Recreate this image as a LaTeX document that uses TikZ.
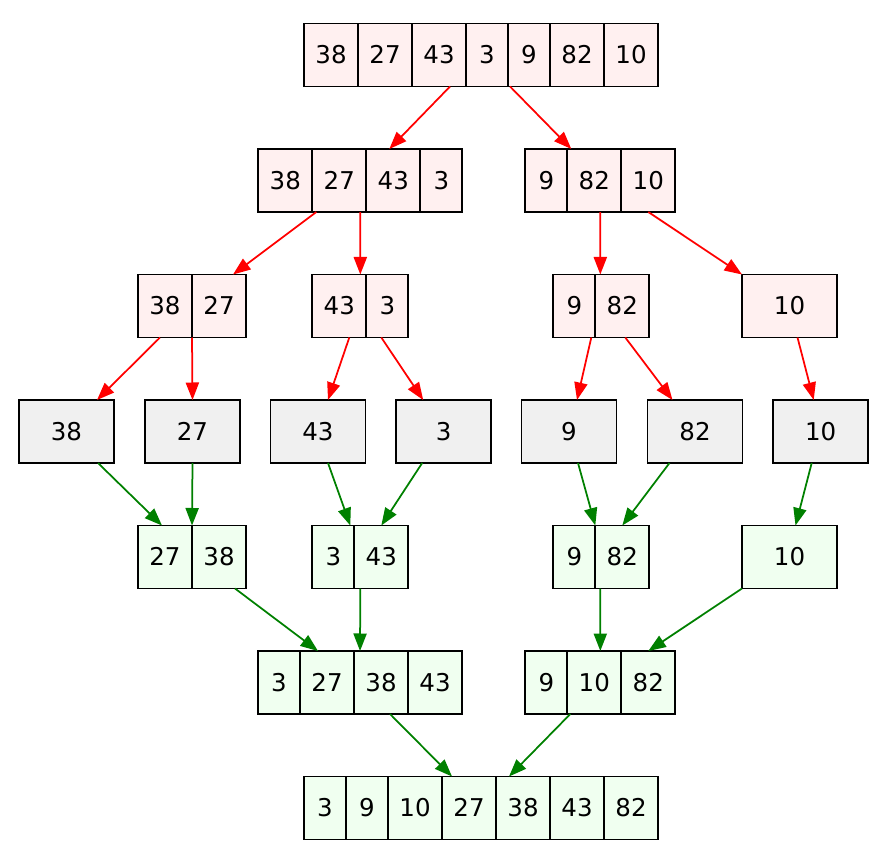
\documentclass[tikz,border=0pt]{standalone}
\usepackage{fontspec}
\setmainfont{DejaVu Sans}
\usetikzlibrary{positioning, calc, arrows.meta}
\definecolor{splitfill}{HTML}{FFF0F0}
\definecolor{leaffill}{HTML}{F0F0F0}
\definecolor{mergefill}{HTML}{F0FFF0}
\definecolor{mergeline}{HTML}{008000}
\tikzstyle{cell} = [rectangle, draw=black, line width=1pt, outer sep=0pt, inner sep=0pt, minimum width=24pt, minimum height=36pt, text height=10.2pt, text depth=0pt, text centered, font=\fontsize{14}{17}\selectfont]
\tikzstyle{cellW} = [cell, minimum width=30.86pt]
\tikzstyle{leaf} = [cell, minimum width=54.29pt]
\tikzstyle{part} = [cell, fill=splitfill]
\tikzstyle{partW} = [cellW, fill=splitfill]
\tikzstyle{single} = [leaf, fill=leaffill]
\tikzstyle{sorted} = [cell, fill=mergefill]
\tikzstyle{sortedW} = [cellW, fill=mergefill]
\tikzstyle{split} = [red, line width=1pt, -{Triangle[length=10pt,width=7.5pt]}]
\tikzstyle{merge} = [split, mergeline]

\begin{document}
\begin{tikzpicture}[x=0.5714pt, y=-0.5714pt]
\useasboundingbox (0,0) rectangle (890,850);
% split
\node (top1) [partW] at (331,55) {38};
\node (top2) [partW, right=0pt of top1] {27};
\node (top3) [partW, right=0pt of top2] {43};
\node (top4) [part, right=0pt of top3] {3};
\node (top5) [part, right=0pt of top4] {9};
\node (top6) [partW, right=0pt of top5] {82};
\node (top7) [partW, right=0pt of top6] {10};

\node (L1) [partW] at (285.3,180.5) {38};
\node (L2) [partW, right=0pt of L1] {27};
\node (L3) [partW, right=0pt of L2] {43};
\node (L4) [part, right=0pt of L3] {3};
\node (R1) [part] at (546.3,180.5) {9};
\node (R2) [partW, right=0pt of R1] {82};
\node (R3) [partW, right=0pt of R2] {10};

\node (LL1) [partW] at (165,306) {38};
\node (LL2) [partW, right=0pt of LL1] {27};
\node (LR1) [partW] at (339.3,306) {43};
\node (LR2) [part, right=0pt of LR1] {3};
\node (RL1) [part] at (574.3,306) {9};
\node (RL2) [partW, right=0pt of RL1] {82};
\node (RR) [leaf, fill=splitfill] at (789.5,306) {10};

% single values
\node (l38) [single] at (66.5,431.5) {38};
\node (l27) [single] at (192.5,431.5) {27};
\node (l43) [single] at (318,431.5) {43};
\node (l3) [single] at (443.7,431.5) {3};
\node (l9) [single] at (569,431.5) {9};
\node (l82) [single] at (695,431.5) {82};
\node (l10) [single] at (820.7,431.5) {10};

% merge
\node (mLL1) [sortedW] at (165,557) {27};
\node (mLL2) [sortedW, right=0pt of mLL1] {38};
\node (mLR1) [sorted] at (333.3,557) {3};
\node (mLR2) [sortedW, right=0pt of mLR1] {43};
\node (mRL1) [sorted] at (574.3,557) {9};
\node (mRL2) [sortedW, right=0pt of mRL1] {82};
\node (mRR) [leaf, fill=mergefill] at (789.5,557) {10};

\node (M1) [sorted] at (279,682.5) {3};
\node (M2) [sortedW, right=0pt of M1] {27};
\node (M3) [sortedW, right=0pt of M2] {38};
\node (M4) [sortedW, right=0pt of M3] {43};
\node (N1) [sorted] at (546.3,682.5) {9};
\node (N2) [sortedW, right=0pt of N1] {10};
\node (N3) [sortedW, right=0pt of N2] {82};

\node (F1) [sorted] at (325,808) {3};
\node (F2) [sorted, right=0pt of F1] {9};
\node (F3) [sortedW, right=0pt of F2] {10};
\node (F4) [sortedW, right=0pt of F3] {27};
\node (F5) [sortedW, right=0pt of F4] {38};
\node (F6) [sortedW, right=0pt of F5] {43};
\node (F7) [sortedW, right=0pt of F6] {82};

\draw [split] ($(top3.south)+(11,0)$) -- ($(L3.north)+(-4,0)$);
\draw [split] ($(top5.south west)+(2,0)$) -- ($(R2.north west)+(4,0)$);
\draw [split] ($(L2.south west)+(4,0)$) -- ($(LL2.north)+(14,0)$);
\draw [split] ($(L2.south east)+(-6,0)$) -- ($(LR1.north east)+(-6,0)$);
\draw [split] ($(R2.south)+(6,0)$) -- ($(RL2.north west)+(5,0)$);
\draw [split] (R3.south) -- (RR.north west);
\draw [split] ($(LL1.south)+(-5,0)$) -- ($(l38.north east)+(-17,0)$);
\draw [split] (LL1.south east) -- (l27.north);
\draw [split] ($(LR1.south)+(10,0)$) -- ($(l43.north)+(10,0)$);
\draw [split] ($(LR2.south)+(-6,0)$) -- ($(l3.north west)+(27,0)$);
\draw [split] ($(RL1.south east)+(-4,0)$) -- ($(l9.north)+(8,0)$);
\draw [split] ($(RL2.south)+(3,0)$) -- ($(l82.north west)+(25,0)$);
\draw [split] ($(RR.south)+(8,0)$) -- ($(l10.north)+(-7,0)$);

\draw [merge] ($(l38.south east)+(-16,0)$) -- ($(mLL1.north)+(-3,0)$);
\draw [merge] (l27.south) -- (mLL1.north east);
\draw [merge] ($(l43.south)+(10,0)$) -- ($(mLR1.north east)+(-4,0)$);
\draw [merge] ($(l3.south west)+(26,0)$) -- (mLR2.north);
\draw [merge] ($(l9.south)+(9,0)$) -- (mRL1.north east);
\draw [merge] ($(l82.south west)+(22,0)$) -- (mRL2.north);
\draw [merge] ($(l10.south)+(-9,0)$) -- ($(mRR.north)+(6,0)$);
\draw [merge] ($(mLL2.south east)+(-11,0)$) -- ($(M2.north)+(-9,0)$);
\draw [merge] ($(mLR2.south west)+(6,0)$) -- ($(M3.north west)+(6,0)$);
\draw [merge] ($(mRL2.south west)+(5,0)$) -- ($(N2.north)+(6,0)$);
\draw [merge] (mRR.south west) -- (N3.north);
\draw [merge] ($(M3.south)+(9,0)$) -- ($(F4.north west)+(10,0)$);
\draw [merge] ($(N1.south east)+(3,0)$) -- ($(F5.north west)+(13,0)$);
\end{tikzpicture}
\end{document}
